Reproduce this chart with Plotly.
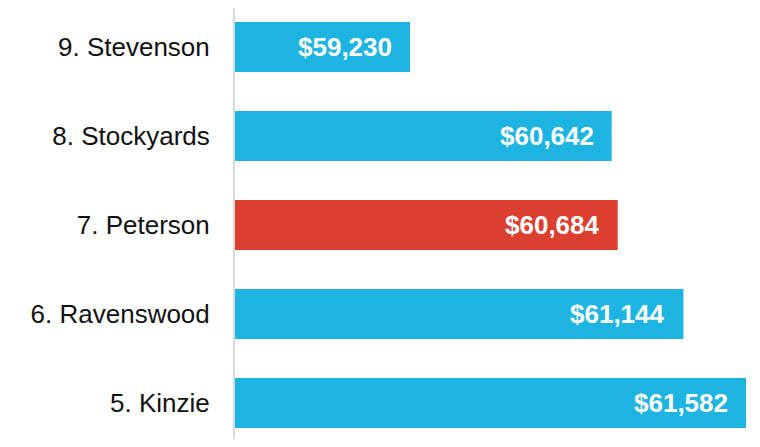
import plotly.graph_objects as go

neighborhoods = ["9. Stevenson", "8. Stockyards", "7. Peterson", "6. Ravenswood", "5. Kinzie"]
incomes = [59230, 60642, 60684, 61144, 61582]
highlight = "7. Peterson"

blue = "#1eb4e1"
red = "#dc3f2f"
colors = [red if n == highlight else blue for n in neighborhoods]
labels = ["${:,}".format(v) for v in incomes]

fig = go.Figure()
fig.add_trace(go.Bar(
    y=neighborhoods, x=incomes, orientation="h",
    marker=dict(color=colors, line=dict(width=0)),
    hoverinfo="skip",
))
for n, v, t in zip(neighborhoods, incomes, labels):
    fig.add_annotation(x=v, y=n, text="<b>" + t + "</b>", showarrow=False,
                       xanchor="right", xshift=-16,
                       font=dict(family="Liberation Sans, Arial, sans-serif", size=26, color="white"))

fig.update_layout(
    width=744, height=431,
    margin=dict(l=227, r=0, t=0, b=0, autoexpand=False),
    plot_bgcolor="white", paper_bgcolor="white",
    bargap=0.438,
    showlegend=False,
    font=dict(family="Liberation Sans, Arial, sans-serif", size=26, color="#111"),
)
fig.update_xaxes(range=[58005, 61624], visible=False, showgrid=False, zeroline=False, automargin=False)
fig.update_yaxes(range=[4.404, -0.438], showline=True, linecolor="#dadada", linewidth=2,
                 ticks="", showgrid=False, ticklabelstandoff=18, automargin=False,
                 tickfont=dict(size=26, color="#111"))

fig.write_html("out.html")
